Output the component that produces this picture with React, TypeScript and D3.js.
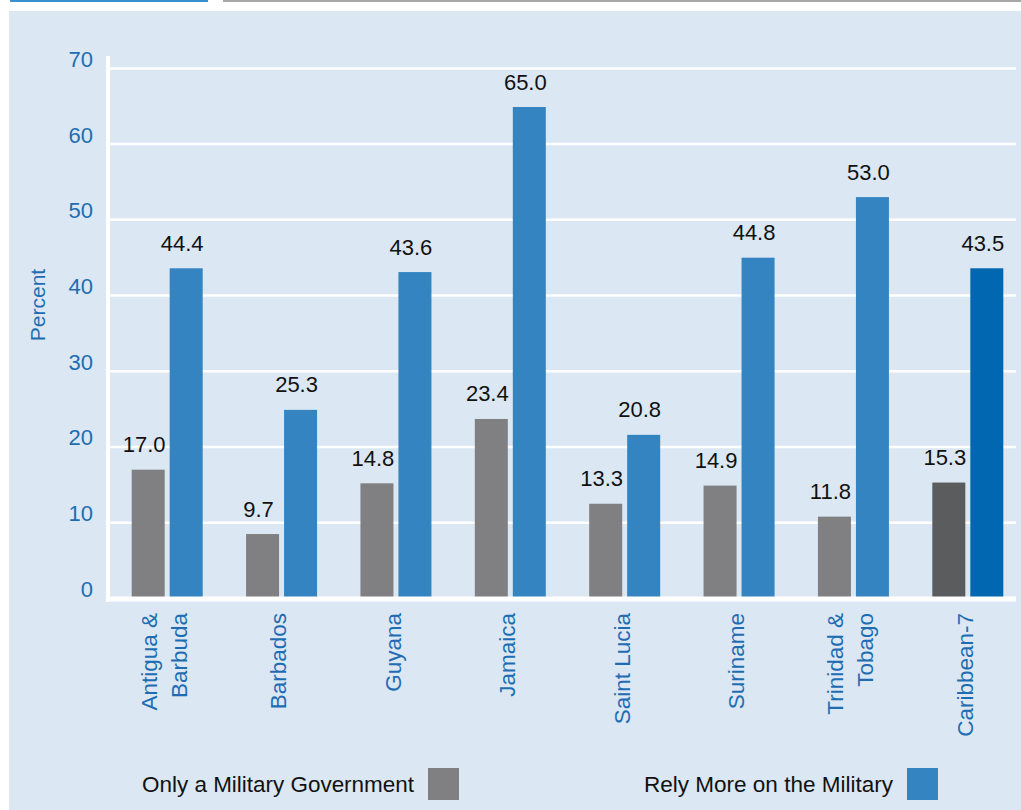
import React from "react";
import * as d3 from "d3";

const categories = [
  "Antigua & Barbuda",
  "Barbados",
  "Guyana",
  "Jamaica",
  "Saint Lucia",
  "Suriname",
  "Trinidad & Tobago",
  "Caribbean-7",
];
const categoryLines = [
  ["Antigua &", "Barbuda"],
  ["Barbados"],
  ["Guyana"],
  ["Jamaica"],
  ["Saint Lucia"],
  ["Suriname"],
  ["Trinidad &", "Tobago"],
  ["Caribbean-7"],
];
const seriesNames = ["Only a Military Government", "Rely More on the Military"];
// printed values
const militaryGovLabels = [17.0, 9.7, 14.8, 23.4, 13.3, 14.9, 11.8, 15.3];
const relyMoreLabels = [44.4, 25.3, 43.6, 65.0, 20.8, 44.8, 53.0, 43.5];
// bar heights as drawn in the picture
const militaryGovBars = [17.0, 8.5, 15.2, 23.7, 12.5, 14.9, 10.8, 15.3];
const relyMoreBars = [43.6, 24.9, 43.1, 64.9, 21.6, 45.0, 53.0, 43.6];
const yTicks = [0, 10, 20, 30, 40, 50, 60, 70];

const FONT = "'Liberation Sans', Arial, Helvetica, sans-serif";
const AXIS_BLUE = "#1e6db3";
const GRAY = "#808083";
const BLUE = "#3484c2";
const DARK_GRAY = "#5b5c5e";
const DARK_BLUE = "#0067b0";

export default function App() {
  const W = 1021;
  const H = 810;
  const x0 = d3.scaleBand<string>().domain(categories).range([110, 1025]);
  const x1 = d3
    .scaleBand<string>()
    .domain(seriesNames)
    .range([0, 71])
    .paddingInner(0.1316);
  const y = d3.scaleLinear().domain([0, 70]).range([598.4, 68.4]);

  const groupOffset = x0.bandwidth() / 2 - 35.5;

  return (
    <svg
      width={W}
      height={H}
      style={{ position: "absolute", left: 0, top: 0 }}
      fontFamily={FONT}
    >
      <rect x={0} y={0} width={W} height={H} fill="#ffffff" />
      <rect x={9} y={11} width={W - 9} height={H - 11} fill="#dbe7f2" />
      <rect x={10} y={0} width={198} height={2} fill="#3a8fd0" />
      <rect x={223} y={0} width={W - 223} height={2} fill="#a6a6a8" />

      {/* gridlines */}
      {yTicks
        .filter((t) => t > 0)
        .map((t) => (
          <line
            key={"g" + t}
            x1={110}
            x2={1016}
            y1={y(t)}
            y2={y(t)}
            stroke="#ffffff"
            strokeWidth={2.5}
          />
        ))}

      {/* y tick labels */}
      {yTicks.map((t) => (
        <text
          key={"t" + t}
          x={93}
          y={y(t) - 1.5}
          textAnchor="end"
          fontSize={22}
          fill={AXIS_BLUE}
        >
          {t}
        </text>
      ))}

      <text
        transform={`translate(45,305) rotate(-90)`}
        textAnchor="middle"
        fontSize={21}
        fill={AXIS_BLUE}
      >
        Percent
      </text>

      {/* bars */}
      {categories.map((c, i) => {
        const gx = (x0(c) as number) + groupOffset;
        const last = i === categories.length - 1;
        const vals = [militaryGovBars[i], relyMoreBars[i]];
        const labels = [militaryGovLabels[i], relyMoreLabels[i]];
        const colors = last ? [DARK_GRAY, DARK_BLUE] : [GRAY, BLUE];
        return (
          <g key={c}>
            {seriesNames.map((s, j) => {
              const bx = gx + (x1(s) as number);
              return (
                <g key={s}>
                  <rect
                    x={bx}
                    y={y(vals[j])}
                    width={x1.bandwidth()}
                    height={y(0) - y(vals[j])}
                    fill={colors[j]}
                  />
                  <text
                    x={bx + x1.bandwidth() / 2 - 4}
                    y={y(vals[j]) - 17.5}
                    textAnchor="middle"
                    fontSize={22}
                    fill="#111111"
                  >
                    {labels[j].toFixed(1)}
                  </text>
                </g>
              );
            })}
          </g>
        );
      })}

      {/* axes lines */}
      <line x1={106} x2={1016} y1={599} y2={599} stroke="#ffffff" strokeWidth={5} />
      <line x1={108} x2={108} y1={56} y2={602} stroke="#ffffff" strokeWidth={4} />

      {/* x labels */}
      {categories.map((c, i) => {
        const cx = (x0(c) as number) + x0.bandwidth() / 2;
        const lines = categoryLines[i];
        const spacing = 30;
        return (
          <g key={"xl" + c}>
            {lines.map((ln, k) => {
              const lx = cx + (k - (lines.length - 1) / 2) * spacing - 3;
              return (
                <text
                  key={ln}
                  transform={`translate(${lx},613) rotate(-90)`}
                  textAnchor="end"
                  dy="0.35em"
                  fontSize={22.5}
                  fill={AXIS_BLUE}
                >
                  {ln}
                </text>
              );
            })}
          </g>
        );
      })}

      {/* legend */}
      <text
        x={142}
        y={792}
        fontSize={22}
        fill="#111111"
        textLength={272}
        lengthAdjust="spacingAndGlyphs"
      >
        {seriesNames[0]}
      </text>
      <rect x={428} y={768} width={31} height={32} fill={GRAY} />
      <text
        x={644}
        y={792}
        fontSize={22}
        fill="#111111"
        textLength={249}
        lengthAdjust="spacingAndGlyphs"
      >
        {seriesNames[1]}
      </text>
      <rect x={907} y={768} width={31} height={32} fill={BLUE} />
    </svg>
  );
}
